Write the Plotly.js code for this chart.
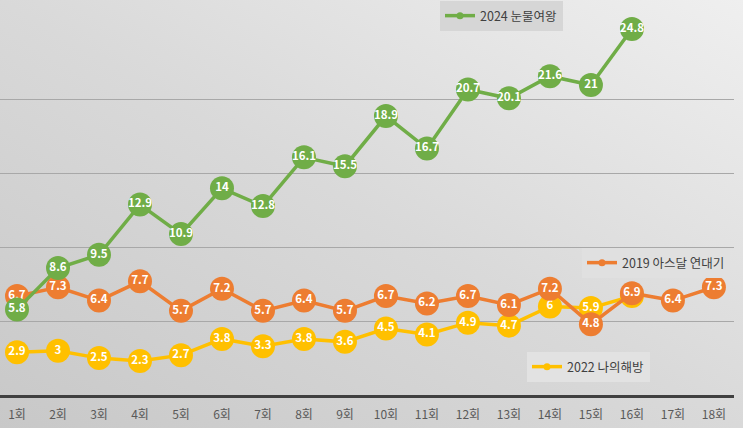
<!DOCTYPE html>
<html>
<head>
<meta charset="utf-8">
<script src="https://cdn.plot.ly/plotly-3.0.1.min.js"></script>
<style>
html,body{margin:0;padding:0;}
body{width:743px;height:428px;overflow:hidden;background:linear-gradient(to top right,#c8c8c8 0%,#d9d9d9 50%,#efefef 100%);}
#chart{width:743px;height:428px;}
</style>
</head>
<body>
<div id="chart"></div>
<script>
const episodes = ['1회','2회','3회','4회','5회','6회','7회','8회','9회','10회','11회','12회','13회','14회','15회','16회','17회','18회'];
const tearsQueen2024 = [5.8, 8.6, 9.5, 12.9, 10.9, 14, 12.8, 16.1, 15.5, 18.9, 16.7, 20.7, 20.1, 21.6, 21, 24.8];
const arthdal2019 = [6.7, 7.3, 6.4, 7.7, 5.7, 7.2, 5.7, 6.4, 5.7, 6.7, 6.2, 6.7, 6.1, 7.2, 4.8, 6.9, 6.4, 7.3];
const liberation2022 = [2.9, 3, 2.5, 2.3, 2.7, 3.8, 3.3, 3.8, 3.6, 4.5, 4.1, 4.9, 4.7, 6, 5.9, 6.7];
const names = ['2024 눈물여왕', '2019 아스달 연대기', '2022 나의해방'];
const colors = ['#70ad47', '#ed7d31', '#ffc000'];

const FONT = '"Noto Sans CJK KR", "Malgun Gothic", sans-serif';

function series(vals, color, legendName, legendId) {
  const xs = episodes.slice(0, vals.length);
  return [
    {
      type: 'scatter', mode: 'lines+markers+text',
      x: xs, y: vals, text: vals.map(String),
      textposition: 'middle center',
      textfont: {color: '#ffffff', size: 11.5, family: FONT, weight: 'bold'},
      line: {color: color, width: 3.5},
      marker: {color: color, size: 24},
      cliponaxis: false, showlegend: false, hoverinfo: 'skip'
    },
    {
      type: 'scatter', mode: 'lines+markers',
      x: [null], y: [null], name: legendName,
      line: {color: color, width: 3.5},
      marker: {color: color, size: 7},
      showlegend: true, legend: legendId
    }
  ];
}

const data = [].concat(
  series(liberation2022, colors[2], names[2], 'legend3'),
  series(arthdal2019, colors[1], names[1], 'legend2'),
  series(tearsQueen2024, colors[0], names[0], 'legend')
);

const legendBase = {
  font: {family: FONT, size: 12.5, color: '#404040'},
  xref: 'container', yref: 'container',
  xanchor: 'left', yanchor: 'top',
  borderwidth: 0, itemclick: false
};

const layout = {
  width: 743, height: 428,
  margin: {l: 0, r: 9, t: 26, b: 33, autoexpand: false},
  paper_bgcolor: 'rgba(0,0,0,0)',
  plot_bgcolor: 'rgba(0,0,0,0)',
  font: {family: FONT},
  xaxis: {
    type: 'category', categoryarray: episodes, categoryorder: 'array',
    range: [-0.415, 17.49], automargin: false, tickangle: 0,
    showgrid: false, zeroline: false,
    showline: true, linecolor: '#404040', linewidth: 3,
    ticks: '', tickfont: {size: 12, color: '#595959', family: FONT},
    ticklabelstandoff: 7
  },
  yaxis: {
    range: [0, 25], dtick: 5, automargin: false,
    showgrid: true, gridcolor: '#a8a8a8', gridwidth: 1,
    zeroline: false, showticklabels: false, ticks: ''
  },
  legend: Object.assign({}, legendBase, {x: 440/743, y: 1 - 1/428, bgcolor: '#d6d6d6'}),
  legend2: Object.assign({}, legendBase, {x: 582/743, y: 1 - 248/428, bgcolor: '#e0e0e0'}),
  legend3: Object.assign({}, legendBase, {x: 527/743, y: 1 - 352/428, bgcolor: '#e2e2e2'}),
  showlegend: true
};

Plotly.newPlot('chart', data, layout, {staticPlot: true});
</script>
</body>
</html>
